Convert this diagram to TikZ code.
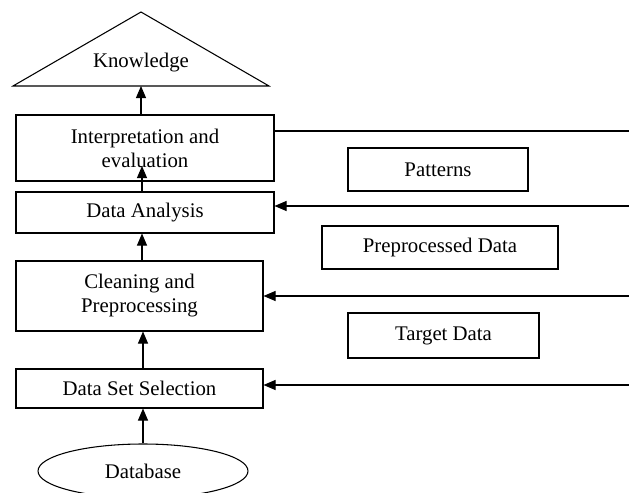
\documentclass[tikz,border=0pt]{standalone}
\usepackage{fontspec}
\setmainfont{Liberation Serif}
\usetikzlibrary{arrows.meta,shapes.geometric}
\tikzset{
  x=0.75pt,y=-0.75pt,
  every node/.style={font=\fontsize{15.6}{18}\selectfont,inner sep=0pt,align=center},
  stagebox/.style={draw,line width=0.8pt},
  databox/.style={draw,line width=0.8pt},
  arr/.style={line width=0.8pt,-{Triangle[length=9pt,width=7.5pt]}},
}
\begin{document}
\begin{tikzpicture}
\useasboundingbox (0,0) rectangle (629,493);
% steps of the process
\draw[line width=0.8pt] (13,86) -- (141,12) -- (269,86) -- cycle;
\node (know) at (141,63) {Knowledge};
\coordinate (kbase) at (141,86);
\node[stagebox,minimum width=193.5pt,minimum height=49.5pt] (interp) at (145,148) {Interpretation and\\evaluation};
\node[stagebox,minimum width=193.5pt,minimum height=30.75pt] (da) at (145,212.5) {Data Analysis};
\node[stagebox,minimum width=185.25pt,minimum height=52.5pt] (clean) at (139.5,296) {Cleaning and\\Preprocessing};
\node[stagebox,minimum width=185.25pt,minimum height=29.25pt] (dss) at (139.5,388.5) {Data Set Selection};
\node[draw,ellipse,line width=0.8pt,minimum width=157.5pt,minimum height=40.5pt] (db) at (143,471) {Database};
% data in between
\node[databox,minimum width=135pt,minimum height=32.25pt] (pat) at (438,169.5) {Patterns};
\node[databox,minimum width=177pt,minimum height=32.25pt] (prep) at (440,247.5) {Preprocessed Data};
\node[databox,minimum width=143.25pt,minimum height=33.75pt] (target) at (443.5,335.5) {Target Data};
% upward arrows
\coordinate (evtip) at (142,166);
\draw[arr] (db.north) -- (db.north |- dss.south);
\draw[arr] (dss.north -| db.north) -- (clean.south -| db.north);
\draw[arr] (clean.north -| evtip) -- (da.south -| evtip);
\draw[arr] (da.north -| evtip) -- (evtip);
\draw[arr] (interp.north -| kbase) -- (kbase);
% lines from the right
\coordinate (r1) at (629,131);
\coordinate (r2) at (629,206);
\coordinate (r3) at (629,296);
\coordinate (r4) at (629,385);
\draw[line width=0.8pt] (r1 -| interp.east) -- (r1);
\draw[arr] (r2) -- (r2 -| da.east);
\draw[arr] (r3) -- (r3 -| clean.east);
\draw[arr] (r4) -- (r4 -| dss.east);
\end{tikzpicture}
\end{document}
